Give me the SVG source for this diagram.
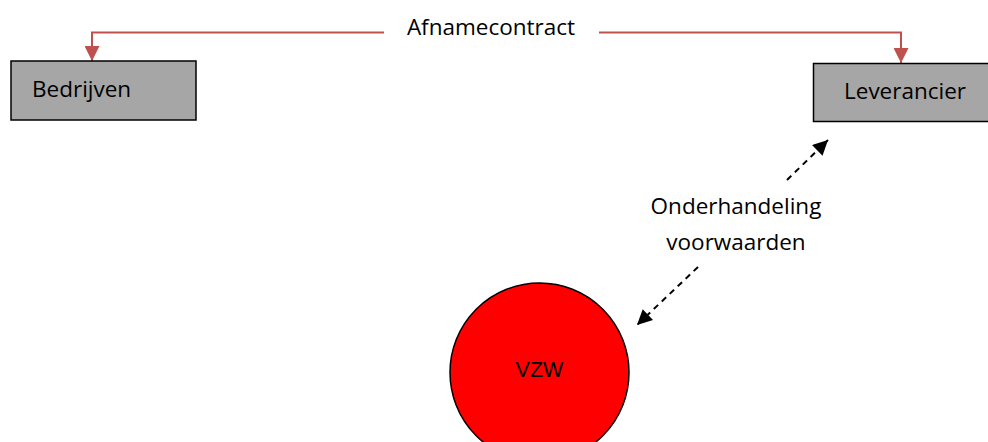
<svg xmlns="http://www.w3.org/2000/svg" width="988" height="442" viewBox="0 0 988 442">
<style>
.lbl{font-family:"Open Sans","Noto Sans",sans-serif;font-size:22.5px;fill:#000}
.box{fill:#A6A6A6;stroke:#000;stroke-width:1.5}
.red{fill:none;stroke:#C0504D;stroke-width:2}
.dash{fill:none;stroke:#000;stroke-width:2;stroke-dasharray:6,5}
</style>
<defs>
<marker id="redArrow" viewBox="0 0 10 10" refX="10" refY="5" markerWidth="15" markerHeight="15" markerUnits="userSpaceOnUse" orient="auto">
<path d="M0,0 L10,5 L0,10 z" fill="#C0504D"/>
</marker>
<marker id="blkArrow" viewBox="0 0 10 10" refX="10" refY="5" markerWidth="17" markerHeight="15" markerUnits="userSpaceOnUse" orient="auto">
<path d="M0,0 L10,5 L0,10 z" fill="#000"/>
</marker>
</defs>
<rect width="988" height="442" fill="#fff"/>
<g id="connectors">
<path class="red" d="M384,32.5 H92 V61" marker-end="url(#redArrow)"/>
<path class="red" d="M599,32.5 H901 V63" marker-end="url(#redArrow)"/>
<path class="dash" d="M787,180 L828,140" marker-end="url(#blkArrow)"/>
<path class="dash" d="M698,267 L637,325" marker-end="url(#blkArrow)"/>
<text class="lbl" x="491" y="34.5" text-anchor="middle">Afnamecontract</text>
<text class="lbl" x="736" y="213.5" text-anchor="middle">Onderhandeling</text>
<text class="lbl" x="736" y="250" text-anchor="middle">voorwaarden</text>
</g>
<g id="bedrijven">
<rect class="box" x="11" y="61" width="185" height="59"/>
<text class="lbl" x="32" y="97">Bedrijven</text>
</g>
<g id="leverancier">
<rect class="box" x="813.5" y="63.5" width="190" height="58"/>
<text class="lbl" x="844" y="98.5">Leverancier</text>
</g>
<g id="vzw">
<circle cx="539.5" cy="372.5" r="89.5" fill="#FF0000" stroke="#000" stroke-width="1.5"/>
<text x="539.5" y="376.5" text-anchor="middle" font-family="Liberation Sans, Arial, sans-serif" font-size="21.5" fill="#000">VZW</text>
</g>
</svg>
